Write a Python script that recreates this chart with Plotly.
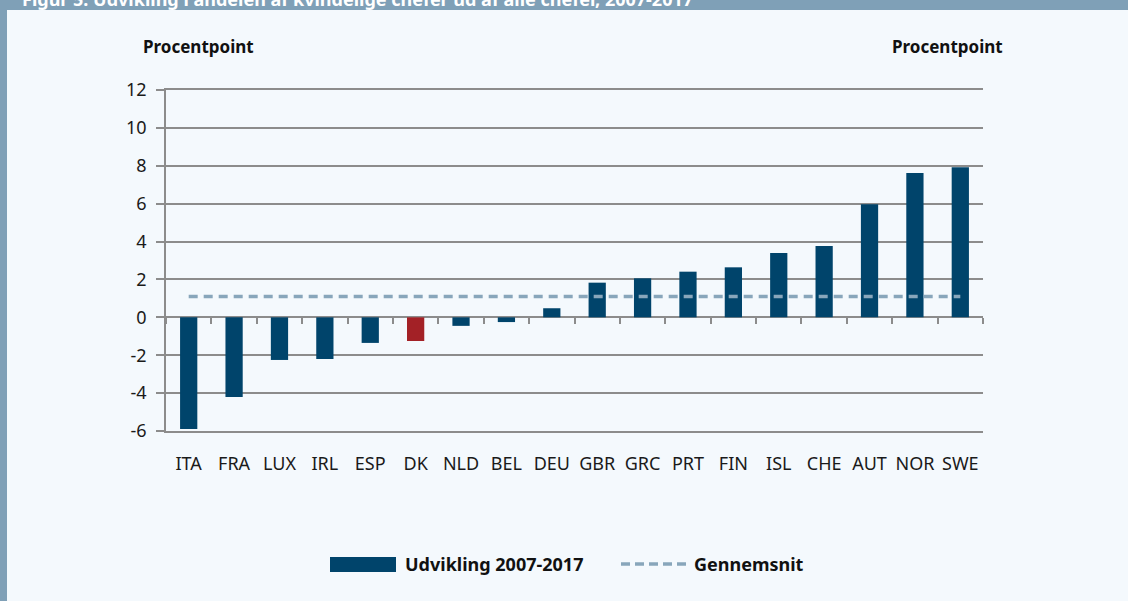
import plotly.graph_objects as go

countries = ["ITA", "FRA", "LUX", "IRL", "ESP", "DK", "NLD", "BEL", "DEU",
             "GBR", "GRC", "PRT", "FIN", "ISL", "CHE", "AUT", "NOR", "SWE"]
change_2007_2017 = [-5.9, -4.2, -2.25, -2.2, -1.35, -1.25, -0.45, -0.25, 0.48,
                    1.83, 2.06, 2.41, 2.64, 3.39, 3.76, 5.97, 7.62, 7.92]
average_value = [1.1] * len(countries)
highlight = "DK"
y_tick_values = [-6, -4, -2, 0, 2, 4, 6, 8, 10, 12]
y_tick_labels = ["-6", "-4", "-2", "0", "2", "4", "6", "8", "10", "12"]

NAVY = "#00446B"
RED = "#A32126"
DASH = "#88A6BB"
GRID = "#8C8C8C"
BG = "#F4F9FD"
FRAME = "#7FA0B7"
FONT = "Noto Sans"

bar_colors = [RED if c == highlight else NAVY for c in countries]

fig = go.Figure()
fig.add_trace(go.Bar(x=countries, y=change_2007_2017, marker_color=bar_colors,
                     marker_line_width=0, width=0.38, showlegend=False,
                     name="Udvikling 2007-2017"))
fig.add_trace(go.Scatter(x=countries, y=average_value, mode="lines",
                         line=dict(color=DASH, width=3.5, dash="9px,6px"),
                         xaxis="x2", yaxis="y", showlegend=False, name="Gennemsnit"))

# plot area pixel geometry
L, R, T, B = 166, 145, 90, 170
W, H = 1128, 601
pw, ph = W - L - R, H - T - B

def px(x):
    return (x - L) / pw

def py(y):
    return (H - B - y) / ph

shapes = [
    dict(type="rect", xref="paper", yref="paper", x0=px(-5), x1=px(W + 5), y0=py(10), y1=py(-5),
         fillcolor=FRAME, line_width=0, layer="below"),
    dict(type="rect", xref="paper", yref="paper", x0=px(-5), x1=px(7), y0=py(H + 5), y1=py(-5),
         fillcolor=FRAME, line_width=0, layer="below"),
    # custom legend
    dict(type="rect", xref="paper", yref="paper", x0=px(330), x1=px(396), y0=py(572), y1=py(557),
         fillcolor=NAVY, line_width=0),
    dict(type="line", xref="paper", yref="paper", x0=px(621), x1=px(688), y0=py(564), y1=py(564),
         line=dict(color=DASH, width=3.5, dash="9px,5px")),
]

bold = dict(family=FONT, size=18, color="#111", weight="bold")
annotations = [
    dict(text="Figur 5: Udvikling i andelen af kvindelige chefer ud af alle chefer, 2007-2017",
         xref="paper", yref="paper", x=px(20), y=py(-1), xanchor="left", yanchor="middle",
         showarrow=False, font=dict(family=FONT, size=18, color="white", weight="bold")),
    dict(text="Procentpoint", xref="paper", yref="paper", x=px(198), y=py(47),
         xanchor="center", yanchor="middle", showarrow=False, font=dict(bold, size=17)),
    dict(text="Procentpoint", xref="paper", yref="paper", x=px(947), y=py(47),
         xanchor="center", yanchor="middle", showarrow=False, font=dict(bold, size=17)),
    dict(text="Udvikling 2007-2017", xref="paper", yref="paper", x=px(403), y=py(564),
         xanchor="left", yanchor="middle", showarrow=False, font=bold),
    dict(text="Gennemsnit", xref="paper", yref="paper", x=px(692), y=py(564),
         xanchor="left", yanchor="middle", showarrow=False, font=bold),
]

tickfont = dict(family=FONT, size=18, color="#1a1a1a")
yaxis_common = dict(range=[-6, 12], tickmode="array", tickvals=y_tick_values,
                    ticktext=y_tick_labels, ticks="outside", ticklen=8,
                    tickcolor=GRID, tickwidth=1.5, showline=True, linecolor=GRID,
                    linewidth=1.5, tickfont=tickfont, ticklabelstandoff=6)

fig.update_layout(
    width=W, height=H,
    margin=dict(l=L, r=R, t=T, b=B),
    paper_bgcolor=BG, plot_bgcolor=BG,
    bargap=0.62,
    shapes=shapes, annotations=annotations,
    xaxis=dict(type="category", domain=[0, 1], showline=True, mirror=True, linecolor=GRID,
               linewidth=1.5, ticks="", showgrid=False, tickfont=tickfont,
               ticklabelstandoff=16),
    xaxis2=dict(type="category", overlaying="x", matches="x", anchor="free",
                position=6 / 18, ticks="outside", tickson="boundaries", ticklen=6,
                tickcolor=GRID, tickwidth=1.5, showticklabels=False, showgrid=False,
                showline=False),
    yaxis=dict(**yaxis_common, showgrid=True, gridcolor=GRID, gridwidth=1.5,
               zeroline=True, zerolinecolor=GRID, zerolinewidth=1.5),
    yaxis2=dict(**yaxis_common, overlaying="y", side="right", matches="y",
                showgrid=False, zeroline=False),
)

fig.write_html("out.html", config={"displayModeBar": False},
               post_script="document.body.style.margin='0';")
